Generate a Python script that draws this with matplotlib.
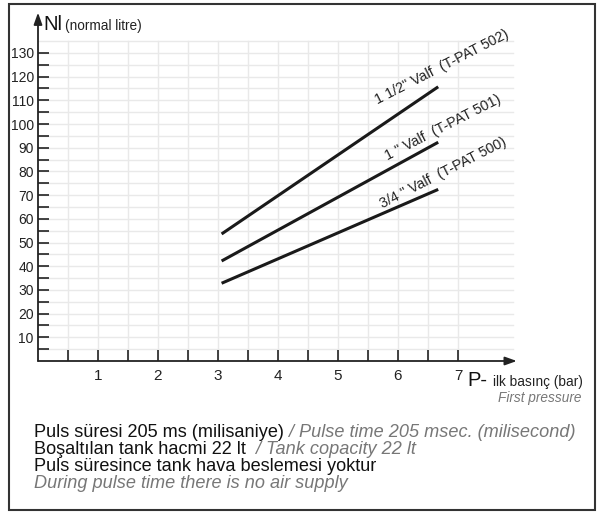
import matplotlib
matplotlib.use("Agg")
import matplotlib.pyplot as plt
from matplotlib.patches import Rectangle
import numpy as np

plt.rcParams['font.family'] = ['Liberation Sans', 'DejaVu Sans']

# Data
pressure = [3.06, 6.67]
valve_15 = [53.6, 115.7]   # 1 1/2" Valf (T-PAT 502)
valve_10 = [42.2, 92.3]    # 1" Valf (T-PAT 501)
valve_075 = [32.8, 72.4]   # 3/4" Valf (T-PAT 500)
series_labels = ['1 1/2" Valf  (T-PAT 502)', '1 " Valf  (T-PAT 501)', '3/4 " Valf  (T-PAT 500)']
x_major = [1, 2, 3, 4, 5, 6, 7]
y_major = list(range(10, 140, 10))

W, H = 606, 512
fig = plt.figure(figsize=(W / 100, H / 100), dpi=100)

# axes geometry (pixels)
x0px, y0px = 38, 361
px_per_x, px_per_y = 60, 2.37
xmax, ymax = 8.0, 145
ax = fig.add_axes([x0px / W, (H - y0px) / H, xmax * px_per_x / W, ymax * px_per_y / H])
ax.set_xlim(0, xmax)
ax.set_ylim(0, ymax)
for s in ax.spines.values():
    s.set_visible(False)

# grid
grid_c = '#e9e9e9'
for gx in np.arange(0.5, 7.01, 0.5):
    ax.plot([gx, gx], [0, 135], color=grid_c, lw=1.0, zorder=0)
for gy in range(5, 136, 5):
    ax.plot([0, 7.92], [gy, gy], color=grid_c, lw=1.0, zorder=0)

# axes with arrows
ax.annotate('', xy=(0, 147), xytext=(0, 0), xycoords='data',
            arrowprops=dict(arrowstyle='-|>,head_length=0.7,head_width=0.25', color='#222', lw=1.3,
                            shrinkA=0, shrinkB=0), annotation_clip=False)
ax.annotate('', xy=(7.98, 0), xytext=(0, 0), xycoords='data',
            arrowprops=dict(arrowstyle='-|>,head_length=0.7,head_width=0.25', color='#222', lw=1.3,
                            shrinkA=0, shrinkB=0), annotation_clip=False)

# ticks
ax.set_xticks(x_major)
ax.set_xticks(np.arange(0.5, 7.01, 0.5), minor=True)
ax.set_yticks(y_major)
ax.set_yticks(list(range(5, 130, 10)), minor=True)
ax.tick_params(axis='both', which='both', direction='in', length=8, width=1.2, color='#222')
ax.tick_params(axis='x', which='major', pad=6, labelsize=11, labelcolor='#222')
ax.tick_params(axis='y', which='major', pad=3, labelsize=10, labelcolor='#222')

# lines
ax.plot(pressure, valve_15, color='#1a1a1a', lw=2.2, solid_capstyle='butt')
ax.plot(pressure, valve_10, color='#1a1a1a', lw=2.2, solid_capstyle='butt')
ax.plot(pressure, valve_075, color='#1a1a1a', lw=2.2, solid_capstyle='butt')

label_pos = [(5.66, 108.5), (5.82, 84.5), (5.74, 64.5)]
for (lx, ly), lab in zip(label_pos, series_labels):
    ax.text(lx, ly, lab, rotation=27, rotation_mode='anchor', ha='left', va='baseline',
            fontsize=10.3, color='#222')

# axis titles
fig.text(43 / W, 1 - 30 / H, 'Nl', fontsize=14.5, color='#111', va='baseline', ha='left')
fig.text(65 / W, 1 - 30 / H, '(normal litre)', fontsize=9.8, color='#222', va='baseline', ha='left')
fig.text(467 / W, 1 - 386 / H, 'P-', fontsize=14.5, color='#111', va='baseline', ha='left')
fig.text(493 / W, 1 - 386 / H, 'ilk basınç (bar)', fontsize=9.8, color='#222', va='baseline', ha='left')
fig.text(581 / W, 1 - 402 / H, 'First pressure', fontsize=9.8, color='#777', style='italic',
         va='baseline', ha='right')

# notes
fs = 13.1
t1 = fig.text(34 / W, 1 - 437 / H, 'Puls süresi 205 ms (milisaniye)', fontsize=fs, color='#111', va='baseline')
ax.annotate(' / Pulse time 205 msec. (milisecond)', xy=(1, 0), xycoords=t1, fontsize=fs,
            color='#777', style='italic', va='bottom', ha='left', annotation_clip=False)
t2 = fig.text(34 / W, 1 - 454 / H, 'Boşaltılan tank hacmi 22 lt', fontsize=fs, color='#111', va='baseline')
ax.annotate('  / Tank copacity 22 lt', xy=(1, 0), xycoords=t2, fontsize=fs,
            color='#777', style='italic', va='bottom', ha='left', annotation_clip=False)
fig.text(34 / W, 1 - 471 / H, 'Puls süresince tank hava beslemesi yoktur', fontsize=fs, color='#111', va='baseline')
fig.text(34 / W, 1 - 488 / H, 'During pulse time there is no air supply', fontsize=fs, color='#777',
         style='italic', va='baseline')

# frame
fig.patches.append(Rectangle((9 / W, 2 / H), 586 / W, 506 / H, transform=fig.transFigure,
                             fill=False, edgecolor='#333', lw=1.5))

fig.savefig('out.png', dpi=100)
